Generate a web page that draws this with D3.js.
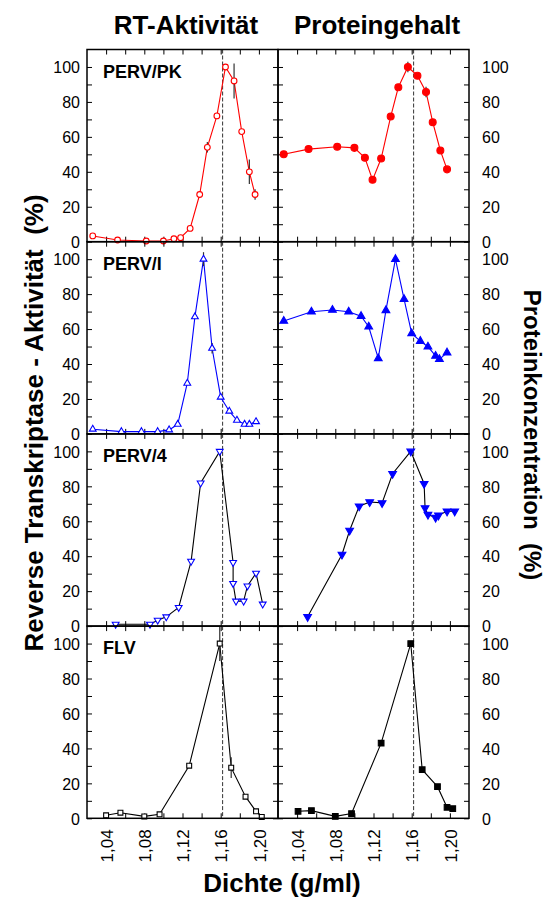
<!DOCTYPE html>
<html>
<head>
<meta charset="utf-8">
<script src="https://cdnjs.cloudflare.com/ajax/libs/d3/7.8.5/d3.min.js"></script>
<style>
  body { margin: 0; background: #fff; }
  svg { display: block; font-family: "Liberation Sans", Arial, sans-serif; }
</style>
</head>
<body>
<svg width="547" height="898"></svg>
<script>
// ---- data (density in g/ml, value in % of max) ----
var panelLabels = ["PERV/PK", "PERV/I", "PERV/4", "FLV"];
var yLabels = [0, 20, 40, 60, 80, 100];
var xLabels = [1.04, 1.08, 1.12, 1.16, 1.20];
var refDensity = 1.162;

// PERV/PK
var pkRtDens = [1.026,1.052,1.082,1.100,1.111,1.118,1.128,1.138,1.146,1.156,1.165,1.174,1.182,1.190,1.196];
var pkRtVal  = [3.3,1.0,0.4,0.4,1.7,2.3,7.6,27,54,72,100,92,63,40,27];
var pkRtErr  = [0,0,0,0,0,0,0,0,3,0,0,10,0,7,3];
var pkProtDens = [1.026,1.052,1.082,1.100,1.111,1.119,1.128,1.138,1.146,1.156,1.166,1.175,1.182,1.190,1.197];
var pkProtVal  = [50,53,54.3,53.7,48,35.4,47.6,71.6,88.4,100,95,85.7,68.4,52.2,41.4];
var pkProtErr  = [0,0,0,0,0,0,0,0,0,3,0,3,0,0,0];

// PERV/I
var iRtDens = [1.026,1.056,1.077,1.094,1.106,1.115,1.125,1.133,1.142,1.151,1.160,1.169,1.177,1.185,1.190,1.197];
var iRtVal  = [2.7,1.3,1.3,1.3,2.3,5.5,29,67,100,49,21,13,7.8,5.5,5.5,7];
var iRtErr  = [0,0,0,0,0,0,0,0,4,3,0,0,0,0,0,0];
var iProtDens = [1.026,1.055,1.077,1.094,1.107,1.115,1.125,1.133,1.143,1.152,1.160,1.169,1.177,1.185,1.189,1.197];
var iProtVal  = [64.6,69.9,70.9,69.9,67.4,61.3,43.2,70.7,100,77.1,57.5,53.1,49.9,44.6,42.7,46.5];

// PERV/4
var p4RtDens = [1.050,1.086,1.094,1.103,1.116,1.129,1.139,1.159,1.173,1.173,1.176,1.184,1.188,1.197,1.204];
var p4RtVal  = [1.1,1.1,3.4,5.3,10.7,37.1,81.9,100,36.4,24.4,14.3,14.3,23,30.3,12.6];
var p4ProtDens = [1.051,1.087,1.095,1.105,1.116,1.129,1.140,1.159,1.173,1.174,1.177,1.185,1.188,1.197,1.205];
var p4ProtVal  = [5.3,41,54.7,68.6,71,70.5,87.2,100,81.5,67.6,63.8,62.1,63.4,65.7,65.7];

// FLV
var flvRtDens = [1.040,1.055,1.080,1.096,1.127,1.159,1.171,1.186,1.197,1.203];
var flvRtVal  = [1.7,3.2,1.1,2.3,30.1,100,29,12.4,4,0.8];
var flvRtErr  = [0,0,0,0,0,10,6,0,0,0];
var flvProtDens = [1.041,1.055,1.080,1.097,1.128,1.159,1.171,1.187,1.197,1.203];
var flvProtVal  = [4,4.4,1.1,2.7,43,100,27.8,18.1,6.3,5.5];

// series table built from the arrays
var rows = [
  { rt:   { d: pkRtDens, v: pkRtVal, e: pkRtErr, sym: d3.symbolCircle, size: 26, fill: "#fff", stroke: "#ff0000", line: "#ff0000" },
    prot: { d: pkProtDens, v: pkProtVal, e: pkProtErr, sym: d3.symbolCircle, size: 38, fill: "#ff0000", stroke: "#ff0000", line: "#ff0000" } },
  { rt:   { d: iRtDens, v: iRtVal, e: iRtErr, sym: d3.symbolTriangle, size: 20, fill: "#fff", stroke: "#0000ff", line: "#0000ff" },
    prot: { d: iProtDens, v: iProtVal, e: null, sym: d3.symbolTriangle, size: 26, fill: "#0000ff", stroke: "#0000ff", line: "#0000ff" } },
  { rt:   { d: p4RtDens, v: p4RtVal, e: null, sym: d3.symbolTriangle, size: 20, fill: "#fff", stroke: "#0000ff", line: "#000", flip: true },
    prot: { d: p4ProtDens, v: p4ProtVal, e: null, sym: d3.symbolTriangle, size: 26, fill: "#0000ff", stroke: "#0000ff", line: "#000", flip: true } },
  { rt:   { d: flvRtDens, v: flvRtVal, e: flvRtErr, sym: d3.symbolSquare, size: 24, fill: "#fff", stroke: "#000", line: "#000" },
    prot: { d: flvProtDens, v: flvProtVal, e: null, sym: d3.symbolSquare, size: 32, fill: "#000", stroke: "#000", line: "#000" } }
];

var FONT = "'Liberation Sans', Arial, sans-serif";
var svg = d3.select("svg");
var top0 = 49.5, panelH = 192.2;
var leftX = 87, midX = 278, rightX = 469;

var de = d3.formatLocale({ decimal: ",", thousands: ".", grouping: [3], currency: ["", "€"] });
var fmtX = de.format(".2f");

var xL = d3.scaleLinear().domain([1.02, 1.22]).range([leftX, midX]);
var xR = d3.scaleLinear().domain([1.02, 1.22]).range([midX, rightX]);
var xTicksMinor = d3.range(0, 9).map(function (i) { return +(1.04 + i * 0.02).toFixed(2); });
var yTicksMinor = d3.range(0, 11).map(function (i) { return i * 10; });

function drawPanel(g, x, y, s, isLeft, rowIdx) {
  var x0 = x.range()[0], x1 = x.range()[1];
  var y0 = y.range()[1], y1 = y.range()[0];

  // inward ticks on all four sides
  g.append("g").attr("transform", "translate(" + x0 + ",0)")
    .call(d3.axisLeft(y).tickValues(yTicksMinor).tickSizeInner(-5).tickSizeOuter(0).tickFormat(""));
  g.append("g").attr("transform", "translate(" + x1 + ",0)")
    .call(d3.axisRight(y).tickValues(yTicksMinor).tickSizeInner(-5).tickSizeOuter(0).tickFormat(""));
  g.append("g").attr("transform", "translate(0," + y0 + ")")
    .call(d3.axisTop(x).tickValues(xTicksMinor).tickSizeInner(-5).tickSizeOuter(0).tickFormat(""));
  g.append("g").attr("transform", "translate(0," + y1 + ")")
    .call(d3.axisBottom(x).tickValues(xTicksMinor).tickSizeInner(-5).tickSizeOuter(0).tickFormat(""));
  g.selectAll(".domain").remove();
  g.selectAll(".tick line").attr("stroke", "#000").attr("stroke-width", 1);

  // y labels on the outer side
  var ya = isLeft ? d3.axisLeft(y) : d3.axisRight(y);
  var lab = g.append("g").attr("transform", "translate(" + (isLeft ? x0 : x1) + ",0)")
    .call(ya.tickValues(yLabels).tickSize(0).tickPadding(isLeft ? 7 : 13));
  lab.attr("font-family", FONT);
  lab.select(".domain").remove();
  lab.selectAll("text").attr("font-size", 16).attr("dy", "0.36em").attr("fill", "#000");

  // x labels on the bottom row
  if (rowIdx === 3) {
    var xa = g.append("g").attr("transform", "translate(0," + y1 + ")")
      .call(d3.axisBottom(x).tickValues(xLabels).tickSize(0).tickFormat(fmtX));
    xa.attr("font-family", FONT);
    xa.select(".domain").remove();
    xa.selectAll("text").attr("font-size", 17)
      .attr("fill", "#000").attr("y", 0).attr("x", -11).attr("dy", "0.36em")
      .attr("transform", "rotate(-90)").style("text-anchor", "end");
  }

  // reference density (dashed)
  g.append("line").attr("x1", x(refDensity)).attr("x2", x(refDensity))
    .attr("y1", y0).attr("y2", y1)
    .attr("stroke", "#333").attr("stroke-width", 1).attr("stroke-dasharray", "4,2");

  var pts = s.d.map(function (d, i) { return { d: d, v: s.v[i], e: s.e ? s.e[i] : 0 }; });

  g.append("path").datum(pts)
    .attr("d", d3.line().x(function (p) { return x(p.d); }).y(function (p) { return y(p.v); }))
    .attr("fill", "none").attr("stroke", s.line).attr("stroke-width", 1.1);

  g.selectAll(".err").data(pts.filter(function (p) { return p.e > 0; })).enter()
    .append("line")
    .attr("x1", function (p) { return x(p.d); }).attr("x2", function (p) { return x(p.d); })
    .attr("y1", function (p) { return y(Math.min(110, p.v + p.e)); })
    .attr("y2", function (p) { return y(p.v - p.e); })
    .attr("stroke", "#333").attr("stroke-width", 1.2);

  g.selectAll(".pt").data(pts).enter().append("path")
    .attr("d", d3.symbol().type(s.sym).size(s.size))
    .attr("transform", function (p) {
      return "translate(" + x(p.d) + "," + y(p.v) + ")" + (s.flip ? " rotate(180)" : "");
    })
    .attr("fill", s.fill).attr("stroke", s.stroke).attr("stroke-width", 1.1);

  // frame
  g.append("rect").attr("x", x0).attr("y", y0).attr("width", x1 - x0).attr("height", y1 - y0)
    .attr("fill", "none").attr("stroke", "#000").attr("stroke-width", 1.5);
}

rows.forEach(function (r, i) {
  var top = top0 + i * panelH;
  var y = d3.scaleLinear().domain([0, 110]).range([top + panelH, top]);
  drawPanel(svg.append("g"), xL, y, r.rt, true, i);
  drawPanel(svg.append("g"), xR, y, r.prot, false, i);
  svg.append("text").attr("x", 103).attr("y", top + 28)
    .attr("font-size", 18).attr("font-weight", "bold").text(panelLabels[i]);
});

// titles
svg.append("text").attr("x", 186).attr("y", 34).attr("text-anchor", "middle")
  .attr("font-size", 26).attr("font-weight", "bold").text("RT-Aktivität");
svg.append("text").attr("x", 377).attr("y", 34).attr("text-anchor", "middle")
  .attr("font-size", 26).attr("font-weight", "bold").text("Proteingehalt");
svg.append("text").attr("x", 282).attr("y", 892).attr("text-anchor", "middle")
  .attr("font-size", 26).attr("font-weight", "bold").text("Dichte (g/ml)");

svg.append("text").attr("transform", "translate(34,423) rotate(-90)")
  .attr("text-anchor", "middle").attr("dy", "0.35em")
  .attr("font-size", 26).attr("font-weight", "bold").style("white-space", "pre")
  .text("Reverse Transkriptase - Aktivität  (%)");
svg.append("text").attr("transform", "translate(532,435) rotate(90)")
  .attr("text-anchor", "middle").attr("dy", "0.35em")
  .attr("font-size", 24).attr("font-weight", "bold").style("white-space", "pre")
  .text("Proteinkonzentration  (%)");
</script>
</body>
</html>
